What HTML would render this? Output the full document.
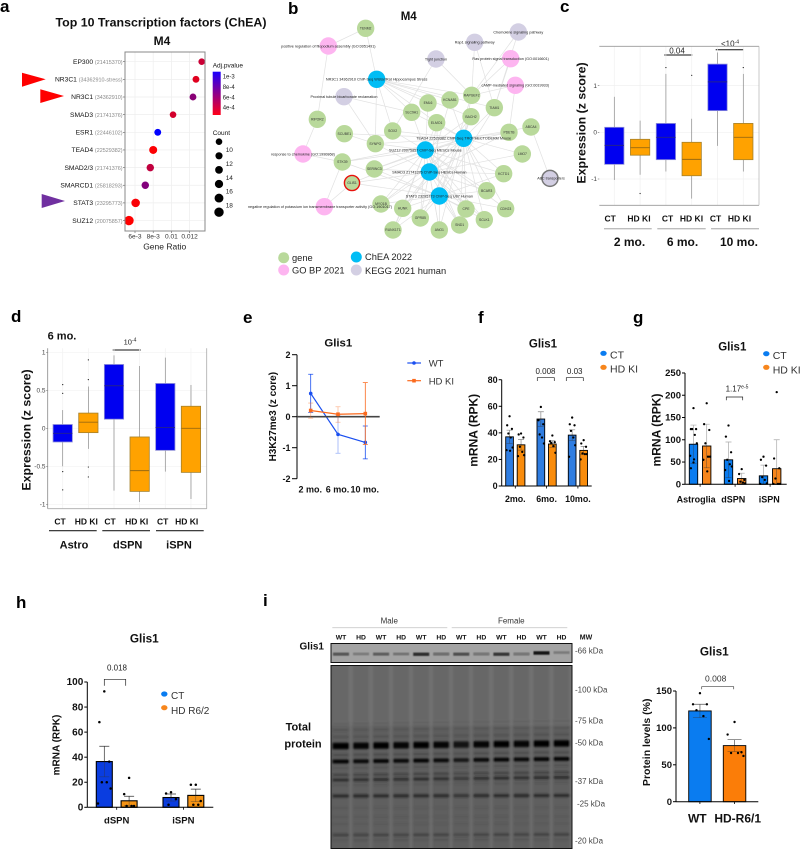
<!DOCTYPE html>
<html lang="en">
<head>
<meta charset="utf-8">
<title>Glis1 figure</title>
<style>
html,body{margin:0;padding:0;background:#fff;}
svg{display:block;font-family:"Liberation Sans",sans-serif;}
.pl{font-size:17px;font-weight:bold;fill:#000;}
.t{font-weight:bold;fill:#111;text-anchor:middle;}
.m{text-anchor:middle;}
</style>
</head>
<body>
<svg id="fig" xmlns="http://www.w3.org/2000/svg" width="800" height="849" viewBox="0 0 800 849">
<defs>
<linearGradient id="pgrad" x1="0" y1="0" x2="0" y2="1"><stop offset="0" stop-color="#1a00ff"/><stop offset="1" stop-color="#ff0018"/></linearGradient>
<filter id="soft" x="-5%" y="-5%" width="110%" height="110%"><feGaussianBlur stdDeviation="0.6"/></filter>
<filter id="soft2" x="-5%" y="-5%" width="110%" height="110%"><feGaussianBlur stdDeviation="0.95"/></filter>
<clipPath id="blotClip"><rect x="331" y="665.5" width="241" height="182.5"/></clipPath>
<clipPath id="blotClip2"><rect x="331" y="643.5" width="241" height="19"/></clipPath>
</defs>
<rect width="800" height="849" fill="#fff"/>

<!-- panel letters -->
<text class="pl" x="0" y="12">a</text>
<text class="pl" x="288" y="14">b</text>
<text class="pl" x="560" y="12">c</text>
<text class="pl" x="11" y="322">d</text>
<text class="pl" x="243" y="323">e</text>
<text class="pl" x="478" y="323">f</text>
<text class="pl" x="633" y="323">g</text>
<text class="pl" x="16" y="608">h</text>
<text class="pl" x="263" y="606">i</text>

<!-- panel a static -->
<text class="t" x="161" y="26.5" font-size="12" textLength="211" lengthAdjust="spacingAndGlyphs">Top 10 Transcription factors (ChEA)</text>
<text class="t" x="162" y="45" font-size="12">M4</text>
<text class="m" x="164.7" y="249.3" font-size="8.5" fill="#222">Gene Ratio</text>
<text x="212.7" y="67.7" font-size="6.5" fill="#111">Adj.pvalue</text>
<rect x="212.7" y="71.7" width="8" height="43.3" fill="url(#pgrad)"/>
<text x="212.7" y="135" font-size="6.5" fill="#111">Count</text>
<polygon points="22,72.7 45.7,79.3 22,86.7" fill="#ff0000"/>
<polygon points="40.3,89.3 64,96 40.3,103" fill="#ff0000"/>
<polygon points="41.7,194 65,201 41.7,208" fill="#7030a0"/>

<!-- panel b static -->
<text class="t" x="408.7" y="20" font-size="11.5">M4</text>
<circle cx="283.7" cy="257.7" r="5.5" fill="#b9d99b"/>
<circle cx="283.7" cy="270" r="5.5" fill="#fdb5f0"/>
<circle cx="356.3" cy="257" r="5.5" fill="#00bdf5"/>
<circle cx="356.3" cy="270" r="5.5" fill="#d3cfe3"/>
<text x="292" y="261" font-size="9.3" fill="#222">gene</text>
<text x="292" y="273.5" font-size="9.3" fill="#222">GO BP 2021</text>
<text x="365" y="260" font-size="9.3" fill="#222">ChEA 2022</text>
<text x="365" y="274" font-size="9.3" fill="#222">KEGG 2021 human</text>

<!-- panel c static -->
<text class="t" transform="translate(585.5 123) rotate(-90)" font-size="12.4">Expression (z score)</text>
<text class="m" x="677" y="53.5" font-size="8" fill="#222">0.04</text>
<line x1="664.3" y1="55" x2="692.3" y2="55" stroke="#111" stroke-width="1"/>
<text class="m" x="730" y="46.5" font-size="8" fill="#222">&lt;10<tspan font-size="5" dy="-3">-4</tspan></text>
<line x1="715.7" y1="49.7" x2="743.7" y2="49.7" stroke="#111" stroke-width="1"/>
<line x1="604" y1="228.7" x2="651.7" y2="228.7" stroke="#bdbdbd" stroke-width="1.4"/>
<line x1="657.3" y1="228.7" x2="705.7" y2="228.7" stroke="#bdbdbd" stroke-width="1.4"/>
<line x1="711" y1="228.7" x2="759" y2="228.7" stroke="#bdbdbd" stroke-width="1.4"/>
<text class="t" x="629.5" y="246" font-size="12">2 mo.</text>
<text class="t" x="682.5" y="246" font-size="12">6 mo.</text>
<text class="t" x="739" y="246" font-size="12">10 mo.</text>

<!-- panel d static -->
<text class="t" x="62" y="339.3" font-size="11">6 mo.</text>
<text class="t" transform="translate(30.5 430) rotate(-90)" font-size="12.4">Expression (z score)</text>
<text class="m" x="130" y="344.5" font-size="7.5" fill="#222">10<tspan font-size="5" dy="-3">-4</tspan></text>
<line x1="112.7" y1="350" x2="140.7" y2="350" stroke="#111" stroke-width="1"/>
<line x1="49" y1="530.7" x2="96.7" y2="530.7" stroke="#222" stroke-width="1.2"/>
<line x1="102.3" y1="530.7" x2="150" y2="530.7" stroke="#222" stroke-width="1.2"/>
<line x1="156" y1="530.7" x2="203.7" y2="530.7" stroke="#222" stroke-width="1.2"/>
<text class="t" x="74" y="548.7" font-size="11">Astro</text>
<text class="t" x="127.7" y="548.7" font-size="11">dSPN</text>
<text class="t" x="179" y="548.7" font-size="11">iSPN</text>

<!-- panel e static -->
<text class="t" x="338.3" y="346.7" font-size="11.4">Glis1</text>
<text class="t" transform="translate(276 416.7) rotate(-90)" font-size="10">H3K27me3 (z core)</text>
<line x1="407.3" y1="363" x2="421" y2="363" stroke="#1a4ff0" stroke-width="1.2"/>
<circle cx="414" cy="363" r="1.8" fill="#1a4ff0"/>
<text x="428.7" y="366.7" font-size="9.5" fill="#333">WT</text>
<line x1="407.3" y1="380.7" x2="421" y2="380.7" stroke="#fb6a1e" stroke-width="1.2"/>
<rect x="412.2" y="378.9" width="3.6" height="3.6" fill="#fb6a1e"/>
<text x="428.7" y="384.4" font-size="9.5" fill="#333">HD KI</text>

<!-- panel f static -->
<text class="t" x="543" y="347.7" font-size="11.5">Glis1</text>
<text class="t" transform="translate(477.5 430.3) rotate(-90)" font-size="12">mRNA (RPK)</text>
<text class="m" x="545.5" y="374" font-size="8" fill="#222">0.008</text>
<path d="M537.3 381V377.7H554.3V381" fill="none" stroke="#222" stroke-width="0.7"/>
<text class="m" x="574.7" y="374" font-size="8" fill="#222">0.03</text>
<path d="M566.3 381V377.7H583.3V381" fill="none" stroke="#222" stroke-width="0.7"/>
<ellipse cx="603.5" cy="353.3" rx="3.2" ry="2.6" fill="#0a7cf0"/>
<text x="610" y="358.3" font-size="10.5" fill="#333">CT</text>
<ellipse cx="603.5" cy="367.3" rx="3.2" ry="2.6" fill="#f7861c"/>
<text x="610" y="372.7" font-size="10.5" fill="#333">HD KI</text>

<!-- panel g static -->
<text class="t" x="732.3" y="350.3" font-size="11.5">Glis1</text>
<text class="t" transform="translate(660.5 430) rotate(-90)" font-size="12">mRNA (RPK)</text>
<text class="m" x="737" y="391.7" font-size="8" fill="#222">1.17<tspan font-size="5" dy="-3">e-5</tspan></text>
<path d="M726.3 400.3V397H742.7V400.3" fill="none" stroke="#222" stroke-width="0.7"/>
<ellipse cx="766.3" cy="353.7" rx="3.2" ry="2.6" fill="#0a7cf0"/>
<text x="772.7" y="359" font-size="10.5" fill="#333">CT</text>
<ellipse cx="766.3" cy="367.3" rx="3.2" ry="2.6" fill="#f7861c"/>
<text x="772.7" y="373.3" font-size="10.5" fill="#333">HD KI</text>

<!-- panel h static -->
<text class="t" x="144.3" y="642.3" font-size="11.8">Glis1</text>
<text class="t" transform="translate(59.5 745) rotate(-90)" font-size="10">mRNA (RPK)</text>
<text class="m" x="117" y="670.7" font-size="8" fill="#222">0.018</text>
<path d="M104.3 685.7V679.3H125.7V685.7" fill="none" stroke="#222" stroke-width="0.7"/>
<ellipse cx="164.3" cy="694" rx="3.2" ry="2.6" fill="#0a7cf0"/>
<text x="171" y="699" font-size="10" fill="#333">CT</text>
<ellipse cx="164.3" cy="707.7" rx="3.2" ry="2.6" fill="#f7861c"/>
<text x="171" y="714" font-size="10" fill="#333">HD R6/2</text>

<!-- panel i static -->
<text class="m" x="389.3" y="623.7" font-size="8" fill="#333">Male</text>
<text class="m" x="511.3" y="623.7" font-size="8" fill="#333">Female</text>
<line x1="332.3" y1="627.7" x2="447.3" y2="627.7" stroke="#ccc" stroke-width="0.8"/>
<line x1="451.7" y1="627.7" x2="567.3" y2="627.7" stroke="#ccc" stroke-width="0.8"/>
<text class="t" x="586" y="639.3" font-size="7">MW</text>
<text x="324" y="649.3" font-size="10" font-weight="bold" text-anchor="end" fill="#111">Glis1</text>
<text class="t" x="298.3" y="730.7" font-size="11">Total</text>
<text class="t" x="303" y="747.7" font-size="11">protein</text>
<text class="t" x="714.3" y="655.7" font-size="11.8">Glis1</text>
<text class="t" transform="translate(650 742.3) rotate(-90)" font-size="10.5">Protein levels (%)</text>
<text class="m" x="715.7" y="681.7" font-size="8.5" fill="#333">0.008</text>
<path d="M701.7 689.3V686.7H733.7V689.3" fill="none" stroke="#444" stroke-width="0.7"/>
<g id="dyn"></g>
</svg>

<script>
// ---------- panel a data ----------
const aTerms = ["EP300","NR3C1","NR3C1","SMAD3","ESR1","TEAD4","SMAD2/3","SMARCD1","STAT3","SUZ12"];
const aRefs = ["(21415370)","(34362910-stress)","(34362910)","(21741376)","(22446102)","(22529382)","(21741376)","(25818293)","(23295773)","(20075857)"];
const aRatio = [0.01333,0.0127,0.01237,0.01018,0.0085,0.008,0.00768,0.00713,0.00607,0.00534];
const aPval = [4.5e-4,3.8e-4,6.6e-4,4.2e-4,1.1e-3,2.9e-4,4.8e-4,6.8e-4,3.0e-4,2.8e-4];
const aCount = [8,9,9,8,9,13,11,11,15,18];
const aXTicks = [0.006,0.008,0.01,0.012];
const aXLabels = ["6e-3","8e-3","0.01","0.012"];
const aPTicks = [1e-3,8e-4,6e-4,4e-4];
const aPLabels = ["1e-3","8e-4","6e-4","4e-4"];
const aSizeLegend = [8,10,12,14,16,18];
const aSizeLabels = ["10","12","14","16","18"];

// ---------- panel b network ----------
const netLabels = {
 NR3C1:"NR3C1 34362910 ChIP-Seq Wistar/Rat Hippocampus Stress",
 TEAD4:"TEAD4 22529382 ChIP-Seq TROPHECTODERM Mouse",
 SUZ12:"SUZ12 20075857 ChIP-Seq MESCs Mouse",
 SMAD3:"SMAD3 21741376 ChIP-Seq HESCs Human",
 STAT3:"STAT3 23295773 ChIP-Seq U87 Human",
 filo:"positive regulation of filopodium assembly (GO:0051491)",
 ras:"Ras protein signal transduction (GO:0016601)",
 camp:"cAMP-mediated signaling (GO:0019933)",
 chemo:"response to chemokine (GO:1990868)",
 kcn:"negative regulation of potassium ion transmembrane transporter activity (GO:1901017)",
 tight:"Tight junction",
 rap:"Rap1 signaling pathway",
 chemosig:"Chemokine signaling pathway",
 prox:"Proximal tubule bicarbonate reclamation",
 abc:"ABC transporters"
};
const netNodes = [
 ["TENM2",302,85,"g"],["RIPOR2",157,358,"g"],["SCUBE1",238,401,"g"],["SYNPO",331,431,"g"],["SOX2",383,393,"g"],
 ["SLC9A1",440,337,"g"],["EML6",489,309,"g"],["KCNAB1",555,300,"g"],["RAPGEF2",620,286,"g"],["TIAM1",688,323,"g"],
 ["BACH2",618,350,"g"],["ELMO1",515,368,"g"],["ABCA4",798,381,"g"],["PDE7B",732,397,"g"],["LMO7",772,462,"g"],
 ["KCTD1",716,521,"g"],["BCAR3",665,572,"g"],["CDH23",722,626,"g"],["CPE",603,627,"g"],["SCLK1",658,659,"g"],
 ["SND1",584,675,"g"],["ANO1",523,690,"g"],["GPR85",466,654,"g"],["HUNK",413,625,"g"],["MYO1B",348,612,"g"],
 ["RUNX1T1",384,690,"g"],["SERINC3",328,507,"g"],["STK39",232,486,"g"],["GLIS1",261,549,"glis"],
 ["NR3C1",335,238,"c"],["TEAD4",596,415,"c"],["SUZ12",481,450,"c"],["SMAD3",493,516,"c"],["STAT3",523,588,"c"],
 ["filo",190,138,"p"],["ras",737,176,"p"],["camp",751,256,"p"],["chemo",114,462,"p"],["kcn",178,620,"p"],
 ["tight",513,177,"k"],["rap",629,127,"k"],["chemosig",760,96,"k"],["prox",237,290,"k"],["abc",855,535,"kb"]
];
const netEdges = {
 NR3C1:["TENM2","EML6","KCNAB1","RAPGEF2","BACH2","SLC9A1","SOX2","SYNPO","ELMO1","TIAM1"],
 TEAD4:["KCNAB1","RAPGEF2","TIAM1","BACH2","ELMO1","SOX2","PDE7B","ABCA4","LMO7","KCTD1","BCAR3","CDH23","CPE","SCLK1","SND1","ANO1","GPR85","HUNK","MYO1B","SERINC3","GLIS1","SCUBE1","SYNPO","STK39","SLC9A1"],
 SUZ12:["SLC9A1","ELMO1","EML6","SOX2","SYNPO","STK39","SERINC3","KCTD1","BCAR3","CDH23","CPE","SCLK1","SND1","ANO1","GPR85","HUNK","MYO1B","PDE7B","BACH2","RUNX1T1"],
 SMAD3:["ELMO1","KCNAB1","SERINC3","GLIS1","KCTD1","LMO7","BCAR3","CPE","SCLK1","SND1","ANO1","GPR85","HUNK","MYO1B","PDE7B","RUNX1T1","SYNPO","BACH2"],
 STAT3:["GLIS1","SERINC3","HUNK","MYO1B","GPR85","ANO1","SND1","CPE","SCLK1","CDH23","BCAR3","KCTD1","ELMO1","RAPGEF2","RUNX1T1","BACH2","STK39","TIAM1"],
 filo:["TENM2","RIPOR2"], chemo:["RIPOR2","STK39"], kcn:["STK39","GLIS1"],
 tight:["RAPGEF2","SOX2"], rap:["RAPGEF2","TIAM1"], chemosig:["RAPGEF2","TIAM1"],
 ras:["RAPGEF2","TIAM1"], camp:["RAPGEF2","PDE7B"], prox:["SYNPO","SLC9A1"], abc:["ABCA4"],
 HUNK:["RUNX1T1"], SCUBE1:["SYNPO"]
};

// ---------- panel c data ----------
const cCategories = ["CT","HD KI","CT","HD KI","CT","HD KI"];
const cQ1 = [-0.686,-0.49,-0.586,-0.93,0.464,-0.586];
const cMedian = [-0.28,-0.33,-0.107,-0.58,1.08,-0.107];
const cQ3 = [0.107,-0.15,0.19,-0.214,1.46,0.19];
const cLow = [-1.02,-0.91,-0.84,-1.42,-0.29,-0.84];
const cHigh = [0.76,0.25,1.25,0.29,1.71,1.25];
const cOutliers = [[],[-1.31],[1.386],[1.22],[],[1.386]];
const cYTicks = [1,0,-1];

// ---------- panel d data ----------
const dCategories = ["CT","HD KI","CT","HD KI","CT","HD KI"];
const dQ1 = [-0.18,-0.057,0.12,-0.83,-0.29,-0.58];
const dMedian = [-0.066,0.08,0.56,-0.557,0.01,0];
const dQ3 = [0.05,0.2,0.84,-0.114,0.59,0.29];
const dLow = [-0.5,-0.27,-0.82,-0.97,-0.57,-0.93];
const dHigh = [0.24,0.55,0.96,0.82,0.93,0.57];
const dOutliers = [[0.575,0.46,-0.57,-0.81],[0.9,0.64,-0.51,-0.64],[],[],[],[]];
const dYTicks = [1,0.5,0,-0.5,-1];

// ---------- panel e data ----------
const eTimes = ["2 mo.","6 mo.","10 mo."];
const eYTicks = [2,1,0,-1,-2];
const eWT = [0.75,-0.57,-0.83];
const eWTUp = [1.37,0.05,-0.3];
const eWTLow = [0.14,-1.18,-1.36];
const eHD = [0.2,0.08,0.1];
const eHDUp = [0.44,0.32,1.1];
const eHDLow = [-0.05,-0.18,-0.9];

// ---------- panel f data ----------
const fGroups = ["2mo.","6mo.","10mo."];
const fYTicks = [0,20,40,60,80];
const fCT = [37,50.4,38.3];
const fHD = [31,31.6,26.8];
const fCTErr = [5,5.5,4];
const fHDErr = [4,2.5,3];
const fCTPts = [[52.5,45.7,43,39.5,36.5,29,27,26.5],[59.5,49.5,46.5,38.8,36.5,32],[51.5,46.5,45.7,41.5,36.5,30.7,22]];
const fHDPts = [[39.5,38.8,36.5,29.5,25.7,23.2,22.5],[38,33.7,33,32.5,30,25],[34.5,32,29.5,24.5,24,24,20]];

// ---------- panel g data ----------
const gGroups = ["Astroglia","dSPN","iSPN"];
const gYTicks = [0,50,100,150,200,250];
const gCT = [90,55,19];
const gHD = [86,13,35];
const gCTErr = [43,40,24];
const gHDErr = [49,12,65];
const gCTPts = [[171,124,124,124,111,92,64,56,49,36],[132,107,72,55,45,40,32,7.5],[62,55,42,16,10,2,1]];
const gHDPts = [[182,135,122,92,62,62,55,29],[34,23,10,6,4,2],[207,58,36,13,1,1,1]];

// ---------- panel h data ----------
const hGroups = ["dSPN","iSPN"];
const hYTicks = [0,20,40,60,80,100];
const hCT = [36.5,7.8];
const hHD = [5.2,9.5];
const hCTErr = [12.2,2.8];
const hHDErr = [3.6,5];
const hCTPts = [[92.5,68,36.5,20,20,15,3],[12,11,6.5,2]];
const hHDPts = [[23.5,10.5,1,1,1],[18,18,5,2,2]];

// ---------- panel i data ----------
const iLanes = ["WT","HD","WT","HD","WT","HD","WT","HD","WT","HD","WT","HD"];
const iGlis1Band = [0.55,0.25,0.5,0.3,0.8,0.4,0.6,0.35,0.75,0.35,0.95,0.25];
const iLoad = [1,0.95,1,0.95,1,0.95,0.8,0.95,1,0.95,1,1];
const iMWLabels = ["-66 kDa","-100 kDa","-75 kDa","-50 kDa","-37 kDa","-25 kDa","-20 kDa"];
const iMWKDa = [66,100,75,50,37,25,20];
const iBars = [123,76];
const iBarNames = ["WT","HD-R6/1"];
const iBarErr = [9,8];
const iBarPts = [[147,132,132,124,116,85],[108,91,67,66,66,62]];
const iYTicks = [0,50,100,150];

// ---------- drawing helpers ----------
const NS = "http://www.w3.org/2000/svg";
const root = document.getElementById("dyn");
function add(tag, attrs, name, parent) {
  const el = document.createElementNS(NS, tag);
  for (const k in attrs) el.setAttribute(k, attrs[k]);
  
  
  (parent || root).appendChild(el);
  return el;
}
function line(x1,y1,x2,y2,stroke,w,name,parent){ return add("line",{x1,y1,x2,y2,stroke,"stroke-width":w},name,parent); }
function label(x,y,str,size,anchor,fill,bold,name,parent){
  const el = add("text",{x,y,"font-size":size,"text-anchor":anchor,fill,"font-weight":bold?"bold":"normal"},name,parent);
  el.textContent = str;
  return el;
}
function group(name){ return add("g",{},name); }

// ---------- panel a ----------
(function(){
  const g = group("panel-a-dotplot");
  const xA = v => 135 + (v-0.006)*9100;
  const yA = i => 61.7 + i*17.65;
  const rA = c => 3.3 + (c-8)*0.14;
  const colA = p => { const t = Math.max(0,Math.min(1,(p-2.8e-4)/(1.1e-3-2.8e-4))); return `rgb(${Math.round(255*(1-t))},0,${Math.round(255*t)})`; };
  add("rect",{x:125,y:52,width:80,height:179,fill:"#fff"},"a-plot-background",g);
  aXTicks.forEach((v,i)=>{
    line(xA(v),52,xA(v),231,"#eeeeee",0.7,"a-x-gridline",g);
    line(xA(v),231,xA(v),233,"#555",0.6,"a-x-tick",g);
    label(xA(v),238.7,aXLabels[i],6.6,"middle","#333",false,"a-x-tick-label",g);
  });
  aTerms.forEach((t,i)=>{
    line(125,yA(i),205,yA(i),"#eeeeee",0.7,"a-y-gridline",g);
    line(123,yA(i),125,yA(i),"#555",0.6,"a-y-tick",g);
    const el = label(122.5,yA(i)+2.2,"",6.7,"end","#111",false,"a-term-label",g);
    const s1 = add("tspan",{},"a-term-name",el); s1.textContent = t+" ";
    const s2 = add("tspan",{"font-size":5.4,fill:"#888"},"a-term-ref",el); s2.textContent = aRefs[i];
  });
  aTerms.forEach((t,i)=>{
    add("circle",{cx:xA(aRatio[i]),cy:yA(i),r:rA(aCount[i]),fill:colA(aPval[i])},"a-dot-"+t.toLowerCase().replace("/","-"),g);
  });
  add("rect",{x:125,y:52,width:80,height:179,fill:"none",stroke:"#888","stroke-width":1},"a-plot-border",g);
  aPTicks.forEach((p,i)=>{
    const y = 76.7 + (1e-3-p)/1e-4*5.15;
    label(222.7,y+2,aPLabels[i],6,"start","#222",false,"a-color-legend-label",g);
  });
  aSizeLegend.forEach((c,i)=>{ add("circle",{cx:219,cy:141.7+i*14.1,r:rA(c),fill:"#000"},"a-size-legend-dot",g); });
  aSizeLabels.forEach((s,i)=>{ label(225.7,152+i*13.9,s,6.5,"start","#222",false,"a-size-legend-label",g); });
})();

// ---------- panel b ----------
(function(){
  const g = group("panel-b-network");
  const px = x => 265 + x/3;
  const py = y => y/3;
  const pos = {};
  netNodes.forEach(n => { pos[n[0]] = n; });
  Object.keys(netEdges).forEach(from => {
    netEdges[from].forEach(to => {
      line(px(pos[from][1]),py(pos[from][2]),px(pos[to][1]),py(pos[to][2]),"#e1e1e1",0.7,"b-edge",g);
    });
  });
  const colors = {g:"#b9d99b",glis:"#b9d99b",c:"#00bdf5",p:"#fdb5f0",k:"#d3cfe3",kb:"#d3cfe3"};
  netNodes.forEach(n => {
    const attrs = {cx:px(n[1]),cy:py(n[2]),r:8.7,fill:colors[n[3]]};
    if (n[3]==="glis"){ attrs.r = 7.6; attrs.stroke="#e8120c"; attrs["stroke-width"]=1.4; }
    if (n[3]==="kb"){ attrs.stroke="#777"; attrs["stroke-width"]=1.5; attrs.r = 8; }
    add("circle",attrs,"b-node-"+n[0].toLowerCase(),g);
  });
  netNodes.forEach(n => {
    if (n[3]==="g"||n[3]==="glis") label(px(n[1]),py(n[2])+1.2,n[0],3.4,"middle","#333",false,"b-gene-label",g);
    else {
      const x = n[0]==="kcn" ? 320 : n[0]==="abc" ? 551 : px(n[1]);
      label(x,py(n[2])+1.3,netLabels[n[0]],n[0]==="abc"?3.6:3.75,"middle","#222",false,"b-term-label",g);
    }
  });
})();

// ---------- box plots ----------
function boxPlot(g, pre, xFn, yFn, cats, q1, med, q3, lo, hi, outl, labelY, labelXs, labelSize, thickIdx){
  cats.forEach((c,i)=>{
    const x = xFn(i), w = 19.3;
    const col = c==="CT" ? "#0000f0" : "#ffa200";
    const edge = c==="CT" ? "#8f8fd8" : "#a5812a";
    const medCol = c==="CT" ? "#23238c" : "#9a6a10";
    const sw = i===thickIdx ? 1.8 : 0.7;
    const sc = i===thickIdx ? "#cfcfcf" : "#8a8a8a";
    line(x,yFn(hi[i]),x,yFn(lo[i]),sc,sw,pre+"-whisker",g);
    add("rect",{x:x-w/2,y:yFn(q3[i]),width:w,height:yFn(q1[i])-yFn(q3[i]),fill:col,stroke:edge,"stroke-width":0.8},pre+"-box",g);
    line(x-w/2,yFn(med[i]),x+w/2,yFn(med[i]),medCol,0.9,pre+"-median",g);
    outl[i].forEach(v=>{ add("circle",{cx:x,cy:yFn(v),r:0.6,fill:"#222"},pre+"-outlier",g); });
    label(labelXs(i),labelY,c,labelSize,"middle","#111",true,pre+"-x-label",g);
  });
}

// panel c
(function(){
  const g = group("panel-c-boxplot");
  const yC = v => 132.3 - 46.7*v;
  const xC = i => 614.3 + i*25.8;
  cYTicks.forEach(v=>{
    line(599.3,yC(v),759,yC(v),"#f0f0f0",0.7,"c-gridline",g);
    line(597.8,yC(v),599.3,yC(v),"#666",0.6,"c-y-tick",g);
    label(597,yC(v)+2.2,String(v),6.5,"end","#444",false,"c-y-tick-label",g);
  });
  cCategories.forEach((c,i)=>line(xC(i),46.3,xC(i),205.3,"#f0f0f0",0.7,"c-vertical-gridline",g));
  line(599.3,46.3,759,46.3,"#999",0.8,"c-top-border",g);
  line(599.3,205.3,759,205.3,"#999",0.8,"c-bottom-border",g);
  line(759,46.3,759,205.3,"#bbb",0.8,"c-right-border",g);
  const lx = [610.2,639,667.5,691.5,715.5,739.5];
  boxPlot(g,"c",xC,yC,cCategories,cQ1,cMedian,cQ3,cLow,cHigh,cOutliers,221.5,i=>lx[i],8.5,-1);
})();

// panel d
(function(){
  const g = group("panel-d-boxplot");
  const yD = v => 428.3 - 76*v;
  const xD = i => 62.7 + i*25.65;
  dYTicks.forEach(v=>{
    line(47.7,yD(v),206.7,yD(v),"#f2f2f2",0.7,"d-gridline",g);
    line(46.2,yD(v),47.7,yD(v),"#666",0.6,"d-y-tick",g);
    label(45.5,yD(v)+2.2,String(v),6.5,"end","#444",false,"d-y-tick-label",g);
  });
  dCategories.forEach((c,i)=>line(xD(i),348.3,xD(i),508.7,"#f2f2f2",0.7,"d-vertical-gridline",g));
  line(47.7,348.3,47.7,508.7,"#888",0.8,"d-left-axis",g);
  line(47.7,508.7,206.7,508.7,"#aaa",0.8,"d-bottom-axis",g);
  line(206.7,348.3,206.7,508.7,"#aaa",0.8,"d-right-border",g);
  const lx = [60,86.3,110,136.7,162.7,186.7];
  boxPlot(g,"d",xD,yD,dCategories,dQ1,dMedian,dQ3,dLow,dHigh,dOutliers,524.3,i=>lx[i],8.5,5);
})();

// ---------- panel e ----------
(function(){
  const g = group("panel-e-line-chart");
  const yE = v => 416.7 - 31*v;
  const xE = i => 310.7 + i*27.3;
  line(297,354.7,297,478.7,"#000",1,"e-y-axis",g);
  eYTicks.forEach(v=>{
    line(292,yE(v),297,yE(v),"#000",1,"e-y-tick",g);
    label(290.5,yE(v)+3.2,String(v),9,"end","#111",true,"e-y-tick-label",g);
  });
  eTimes.forEach((t,i)=>{
    label(xE(i)-0.5,492.7,t,9,"middle","#111",true,"e-x-tick-label",g);
  });
  function series(vals,up,low,col,name,marker){
    vals.forEach((v,i)=>{
      const op = (name==="wt"&&i===1)||(name==="hd"&&i<2) ? 0.45 : 1;
      add("path",{d:`M${xE(i)-2.5} ${yE(up[i])}H${xE(i)+2.5}M${xE(i)} ${yE(up[i])}V${yE(low[i])}M${xE(i)-2.5} ${yE(low[i])}H${xE(i)+2.5}`,fill:"none",stroke:col,"stroke-width":0.8,"stroke-opacity":op},"e-error-bar-"+name,g);
    });
    add("polyline",{points:vals.map((v,i)=>xE(i)+","+yE(v)).join(" "),fill:"none",stroke:col,"stroke-width":1.2},"e-line-"+name,g);
    vals.forEach((v,i)=>{
      if(marker==="c") add("circle",{cx:xE(i),cy:yE(v),r:1.8,fill:col},"e-point-"+name,g);
      else add("rect",{x:xE(i)-1.8,y:yE(v)-1.8,width:3.6,height:3.6,fill:col},"e-point-"+name,g);
    });
  }
  series(eWT,eWTUp,eWTLow,"#1a4ff0","wt","c");
  line(297,yE(0),379.7,yE(0),"#444",1.6,"e-zero-line",g);
  series(eHD,eHDUp,eHDLow,"#fb6a1e","hd","s");
})();

// ---------- bar charts ----------
function barChart(o){
  const g = group(o.pre+"-bar-chart");
  const y = o.yFn;
  const jit = [0,-0.28,0.28,-0.14,0.14,0.36,-0.36,0.06];
  o.series.forEach(s=>{
    s.vals.forEach((v,i)=>{
      const x = o.x0 + i*o.gStep + s.idx*o.sStep;
      const cx = x + o.bw/2;
      const lower = s.errLow ? s.errLow[i] : s.err[i];
      add("path",{d:`M${cx-o.cap} ${y(v+s.err[i])}H${cx+o.cap}M${cx} ${y(v+s.err[i])}V${y(Math.max(v-lower,0))}M${cx-o.cap} ${y(Math.max(v-lower,0))}H${cx+o.cap}`,fill:"none",stroke:o.errCol,"stroke-width":0.7},o.pre+"-error-bar",g);
      add("rect",{x,y:y(v),width:o.bw,height:y(0)-y(v),fill:s.col,stroke:"#000","stroke-width":o.sw,"fill-opacity":1},o.pre+"-bar-"+s.name+"-"+i,g);
      add("path",{d:`M${cx} ${y(v)}V${y(Math.max(v-lower,0))}M${cx-o.cap} ${y(Math.max(v-lower,0))}H${cx+o.cap}`,fill:"none",stroke:"#333","stroke-width":0.5,"stroke-opacity":0.7},o.pre+"-error-bar-lower",g);
      s.pts[i].forEach((p,j)=>{
        add("circle",{cx:cx+jit[j%jit.length]*o.bw*1.1,cy:y(p),r:o.pr,fill:"#000"},o.pre+"-point",g);
      });
    });
  });
  line(o.axisX,y(o.yTicks[o.yTicks.length-1]),o.axisX,y(0),"#000",1,o.pre+"-y-axis",g);
  line(o.axisX,y(0),o.axisEnd,y(0),"#000",1,o.pre+"-x-axis",g);
  o.yTicks.forEach(v=>{
    line(o.axisX-3,y(v),o.axisX,y(v),"#000",1,o.pre+"-y-tick",g);
    label(o.axisX-4,y(v)+3.2,String(v),o.tickSize,"end","#111",true,o.pre+"-y-tick-label",g);
  });
  o.groups.forEach((n,i)=>{
    const c = o.x0 + i*o.gStep + (o.sStep+o.bw)/2;
    line(c,y(0),c,y(0)+2.5,"#000",0.8,o.pre+"-x-tick",g);
    label(c+(o.gLabelDx?o.gLabelDx[i]:0),o.labelY,n,o.labelSize,"middle","#111",true,o.pre+"-x-label",g);
  });
  return g;
}
barChart({pre:"f",yFn:v=>486-1.3285*v,x0:505.7,gStep:31.3,sStep:11.5,bw:7.7,cap:3,sw:0.9,pr:1.15,errCol:"#888",
  axisX:501.7,axisEnd:591.7,yTicks:fYTicks,tickSize:9,groups:fGroups,labelY:502,labelSize:8.9,
  series:[{name:"ct",idx:0,vals:fCT,err:fCTErr,pts:fCTPts,col:"#2f7de1"},{name:"hd",idx:1,vals:fHD,err:fHDErr,pts:fHDPts,col:"#f98c0c"}]});
barChart({pre:"g",yFn:v=>484.3-0.4453*v,x0:689.3,gStep:35,sStep:13.2,bw:8.4,cap:3,sw:0.9,pr:1.15,errCol:"#aaa",
  axisX:685,axisEnd:786.7,yTicks:gYTicks,tickSize:9.5,groups:gGroups,labelY:502.3,labelSize:9,gLabelDx:[-4,-1.8,-0.8],
  series:[{name:"ct",idx:0,vals:gCT,err:gCTErr,pts:gCTPts,col:"#0a7cf0"},{name:"hd",idx:1,vals:gHD,err:gHDErr,pts:gHDPts,col:"#f7861c"}]});
barChart({pre:"h",yFn:v=>807.3-1.253*v,x0:96.3,gStep:66.7,sStep:24.8,bw:16,cap:5,sw:1.1,pr:1.25,errCol:"#333",
  axisX:87.3,axisEnd:213.3,yTicks:hYTicks,tickSize:10,groups:hGroups,labelY:823.3,labelSize:9.5,
  series:[{name:"ct",idx:0,vals:hCT,err:hCTErr,pts:hCTPts,col:"#0a3de0"},{name:"hd",idx:1,vals:hHD,err:hHDErr,pts:hHDPts,col:"#f59314"}]});

// ---------- panel i blots ----------
(function(){
  const g = group("panel-i-blot");
  const laneX = i => 341 + i*20.05;
  iLanes.forEach((n,i)=>{ label(laneX(i),639.3,n,6.8,"middle","#111",true,"i-lane-label",g); });
  // Glis1 blot
  const top = add("g",{"clip-path":"url(#blotClip2)"},"i-glis1-blot",g);
  add("rect",{x:331,y:643.5,width:241,height:19,fill:"#a3a3a3"},"i-glis1-blot-background",top);
  const topBands = add("g",{filter:"url(#soft)"},"i-glis1-bands",top);
  iGlis1Band.forEach((v,i)=>{
    add("rect",{x:laneX(i)-8,y:652.6-(i>9?1.4:0),width:16,height:2.4+v*1.2,fill:"#111","fill-opacity":v},"i-glis1-band",topBands);
  });
  add("rect",{x:331,y:643.5,width:241,height:19,fill:"none",stroke:"#111","stroke-width":1},"i-glis1-blot-border",g);
  // total protein blot
  const bot = add("g",{"clip-path":"url(#blotClip)"},"i-total-protein-blot",g);
  add("rect",{x:331,y:665.5,width:241,height:183,fill:"#5f5f5f"},"i-total-blot-background",bot);
  const blur = add("g",{filter:"url(#soft2)"},"i-total-bands",bot);
  iLanes.forEach((n,i)=>{
    add("rect",{x:laneX(i)+8.2,y:660,width:3.2,height:195,fill:"#7b7b7b","fill-opacity":0.42},"i-lane-gap",blur);
  });
  add("rect",{x:331,y:665.5,width:241,height:60,fill:"#fff","fill-opacity":0.05},"i-top-lightening",blur);
  const bandRows = [
    {y:723.5,h:1.6,c:"#3f3f3f",o:0.35},{y:730,h:2,c:"#3f3f3f",o:0.35},{y:737,h:2,c:"#3a3a3a",o:0.45},
    {y:746,h:6.4,c:"#000",o:1},{y:755,h:2,c:"#333",o:0.5},{y:761.5,h:3.8,c:"#000",o:1},
    {y:768,h:1.6,c:"#333",o:0.35},{y:775,h:1.8,c:"#222",o:0.6},{y:780,h:2.8,c:"#1c1c1c",o:0.8},
    {y:785,h:1.2,c:"#333",o:0.35},{y:796,h:3,c:"#1d1d1d",o:0.85},{y:808,h:1.4,c:"#3f3f3f",o:0.3},
    {y:817,h:1.4,c:"#3f3f3f",o:0.3},{y:824,h:1.4,c:"#3f3f3f",o:0.3},{y:835,h:2.4,c:"#2a2a2a",o:0.6},{y:840,h:1.5,c:"#3a3a3a",o:0.35}
  ];
  iLanes.forEach((n,i)=>{
    bandRows.forEach(b=>{
      const tilt = (b.y<790 ? 2.6 : 0.5)*(i/11);
      add("rect",{x:laneX(i)-8.4,y:b.y-tilt-b.h/2,width:16.8,height:b.h,fill:b.c,"fill-opacity":b.o*iLoad[i]},"i-protein-band",blur);
    });
  });
  add("rect",{x:331,y:665.5,width:241,height:183,fill:"none",stroke:"#111","stroke-width":1},"i-total-blot-border",g);
  // MW ladder label heights, keyed by kDa
  const mwY = {66:653.3,100:692.3,75:723.3,50:745.7,37:784,25:806.7,20:843.3};
  iMWKDa.forEach((k,i)=>{
    label(k===25?577:575,mwY[k],iMWLabels[i],8,"start","#444",false,"i-mw-label",g);
  });
})();

// panel i bar chart
barChart({pre:"i",yFn:v=>801.7-0.738*v,x0:688.7,gStep:34.6,sStep:34.6,bw:22.5,cap:7,sw:0.9,pr:1.2,errCol:"#555",
  axisX:676,axisEnd:758.3,yTicks:iYTicks,tickSize:9.5,groups:[],labelY:822.3,labelSize:12,
  series:[
    {name:"wt",idx:0,vals:[iBars[0]],err:[iBarErr[0]],pts:[iBarPts[0]],col:"#0a7cf0"},
    {name:"hd",idx:1,vals:[iBars[1]],err:[iBarErr[1]],pts:[iBarPts[1]],col:"#fb7d08"}
  ]});
(function(){
  const g = group("i-bar-x-axis-labels");
  const xI = i => 699.9 + i*34.6;
  iBarNames.forEach((n,i)=>{
    line(xI(i),801.7,xI(i),804,"#000",0.8,"i-x-tick",g);
    label(i===0?697.3:737.7,822.3,n,12,"middle","#111",true,"i-x-label",g);
  });
})();
</script>
</body>
</html>
